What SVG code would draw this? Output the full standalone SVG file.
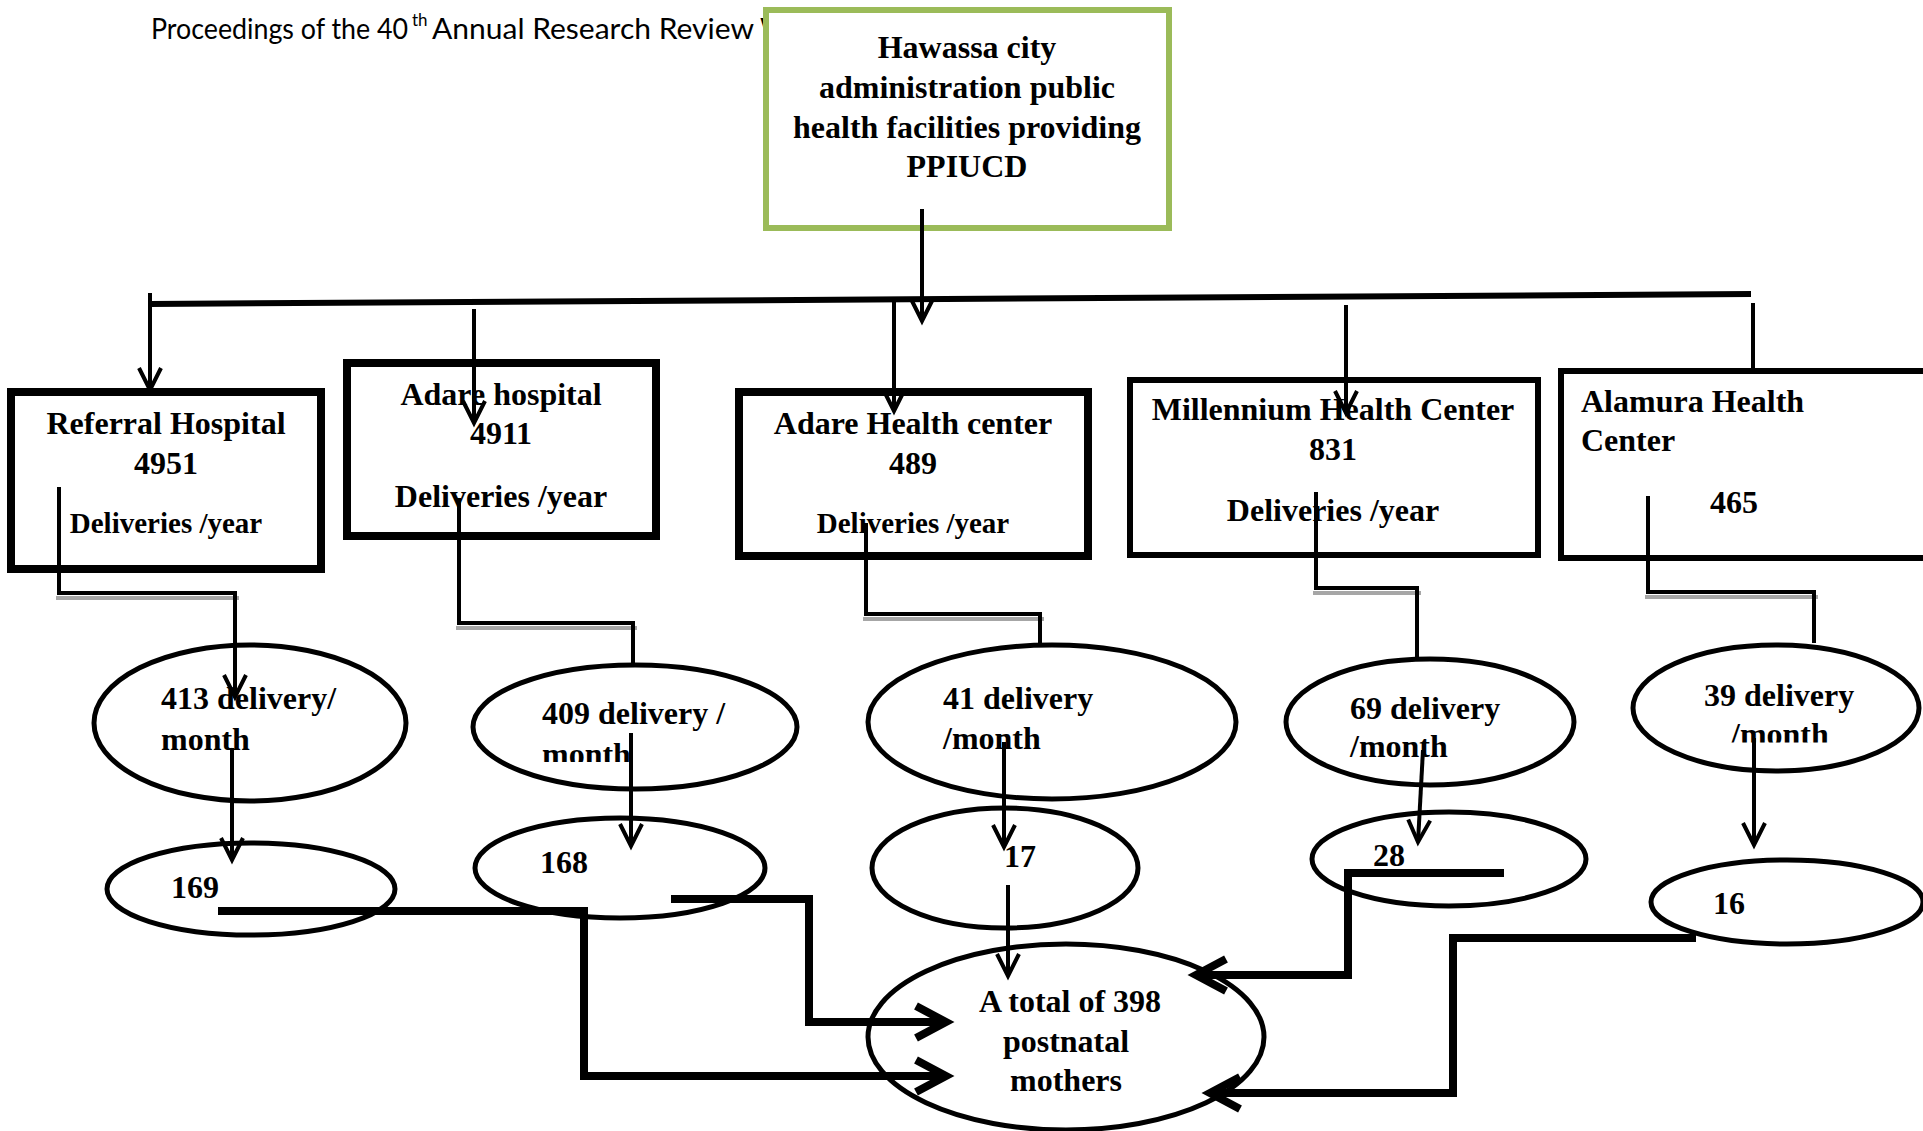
<svg xmlns="http://www.w3.org/2000/svg" width="1923" height="1131" viewBox="0 0 1923 1131">
<defs>
<style>
.t{font-family:"Liberation Serif","Times New Roman",serif;font-weight:bold;font-size:32px;fill:#000}
.s29{font-size:29px}
.c{text-anchor:middle}
.box{fill:#fff;stroke:#000}
.ell{fill:#fff;stroke:#000;stroke-width:5}
.ln{fill:none;stroke:#000;stroke-width:4}
.thick{fill:none;stroke:#000;stroke-width:8}
.sh{fill:none;stroke:#a6a6a6;stroke-width:4}
.hdr{font-family:Lato,"Open Sans",sans-serif;fill:#000}
</style>
<marker id="ar" markerUnits="userSpaceOnUse" viewBox="-30 -16 34 32" refX="0" refY="0" markerWidth="34" markerHeight="32" orient="auto" overflow="visible">
<path d="M-22,-11 L0,0 L-22,11" fill="none" stroke="#000" stroke-width="4"/>
</marker>
<marker id="art" markerUnits="userSpaceOnUse" viewBox="-40 -22 46 44" refX="0" refY="0" markerWidth="46" markerHeight="44" orient="auto" overflow="visible">
<path d="M-30,-16 L0,0 L-30,16" fill="none" stroke="#000" stroke-width="8"/>
</marker>
<clipPath id="clipE2"><rect x="400" y="600" width="450" height="162"/></clipPath>
<clipPath id="clipE5"><rect x="1600" y="600" width="330" height="142.5"/></clipPath>
</defs>
<rect x="0" y="0" width="1923" height="1131" fill="#fff"/>

<text class="hdr" x="151" y="39" font-size="29" textLength="257" lengthAdjust="spacingAndGlyphs">Proceedings of the 40</text>
<text class="hdr" x="412" y="26" font-size="17">th</text>
<text class="hdr" x="432" y="39" font-size="29" textLength="322" lengthAdjust="spacingAndGlyphs">Annual Research Review</text>
<text class="hdr" x="760" y="39" font-size="29">Wo</text>

<g id="node-root">
<rect x="766" y="10" width="403" height="218" fill="#fff" stroke="#9bbb59" stroke-width="6"/>
<text class="t c" x="967" y="58">Hawassa city</text>
<text class="t c" x="967" y="98">administration public</text>
<text class="t c" x="967" y="138">health facilities providing</text>
<text class="t c" x="967" y="177">PPIUCD</text>
</g>

<g id="node-referral">
<rect class="box" x="11" y="392" width="310" height="177" stroke-width="8"/>
<text class="t c" x="166" y="434">Referral Hospital</text>
<text class="t c" x="166" y="474">4951</text>
<text class="t c s29" x="166" y="533">Deliveries /year</text>
</g>
<g id="node-adare-hospital">
<rect class="box" x="347" y="363" width="309" height="173" stroke-width="8"/>
<text class="t c" x="501" y="405">Adare hospital</text>
<text class="t c" x="501" y="444">4911</text>
<text class="t c" x="501" y="507">Deliveries /year</text>
</g>
<g id="node-adare-hc">
<rect class="box" x="739" y="392" width="349" height="164" stroke-width="8"/>
<text class="t c" x="913" y="434">Adare Health center</text>
<text class="t c" x="913" y="474">489</text>
<text class="t c s29" x="913" y="533">Deliveries /year</text>
</g>
<g id="node-millennium">
<rect class="box" x="1130" y="380" width="408" height="175" stroke-width="6"/>
<text class="t c" x="1333" y="420">Millennium Health Center</text>
<text class="t c" x="1333" y="460">831</text>
<text class="t c" x="1333" y="521">Deliveries /year</text>
</g>
<g id="node-alamura">
<rect class="box" x="1561" y="371" width="400" height="187" stroke-width="6"/>
<text class="t" x="1581" y="412">Alamura Health</text>
<text class="t" x="1581" y="451">Center</text>
<text class="t" x="1710" y="513">465</text>
</g>

<g id="node-e1">
<ellipse class="ell" cx="250" cy="723" rx="156" ry="78"/>
<text class="t" x="161" y="709">413 delivery/</text>
<text class="t" x="161" y="750">month</text>
</g>
<g id="node-e2">
<ellipse class="ell" cx="635" cy="727" rx="162" ry="62"/>
<g clip-path="url(#clipE2)">
<text class="t" x="542" y="724">409 delivery /</text>
<text class="t" x="542" y="765">month</text>
</g>
</g>
<g id="node-e3">
<ellipse class="ell" cx="1052" cy="722" rx="184" ry="77"/>
<text class="t" x="943" y="709">41 delivery</text>
<text class="t" x="943" y="749">/month</text>
</g>
<g id="node-e4">
<ellipse class="ell" cx="1430" cy="722" rx="144" ry="63"/>
<text class="t" x="1350" y="719">69 delivery</text>
<text class="t" x="1350" y="757">/month</text>
</g>
<g id="node-e5">
<ellipse class="ell" cx="1776" cy="708" rx="143" ry="63"/>
<g clip-path="url(#clipE5)">
<text class="t" x="1704" y="706">39 delivery</text>
<text class="t" x="1731" y="745">/month</text>
</g>
</g>

<g id="node-n169">
<ellipse class="ell" cx="251" cy="889" rx="144" ry="46"/>
<text class="t" x="171" y="898">169</text>
</g>
<g id="node-n168">
<ellipse class="ell" cx="620" cy="868" rx="145" ry="50"/>
<text class="t" x="540" y="873">168</text>
</g>
<g id="node-n17">
<ellipse class="ell" cx="1005" cy="868" rx="133" ry="60"/>
<text class="t" x="1004" y="867">17</text>
</g>
<g id="node-n28">
<ellipse class="ell" cx="1449" cy="859" rx="137" ry="47"/>
<text class="t" x="1373" y="866">28</text>
</g>
<g id="node-n16">
<ellipse class="ell" cx="1787" cy="902" rx="136" ry="42"/>
<text class="t" x="1713" y="914">16</text>
</g>
<g id="node-total">
<ellipse class="ell" cx="1066" cy="1037" rx="198" ry="93"/>
<text class="t c" x="1070" y="1012">A total of 398</text>
<text class="t c" x="1066" y="1052">postnatal</text>
<text class="t c" x="1066" y="1091">mothers</text>
</g>

<g id="connectors">
<line x1="150" y1="304" x2="1751" y2="294" stroke="#000" stroke-width="6"/>
<path class="ln" d="M150,293 V390" marker-end="url(#ar)"/>
<path class="ln" d="M922,209 V321" marker-end="url(#ar)"/>
<path class="ln" d="M474,309 V423" marker-end="url(#ar)"/>
<path class="ln" d="M894,297 V411" marker-end="url(#ar)"/>
<path class="ln" d="M1346,305 V413" marker-end="url(#ar)"/>
<path class="ln" d="M1753,303 V370"/>

<path class="sh" d="M56,598 H239"/>
<path class="sh" d="M456,628 H637"/>
<path class="sh" d="M863,619 H1044"/>
<path class="sh" d="M1313,593 H1421"/>
<path class="sh" d="M1645,597 H1818"/>
<path class="ln" d="M59,487 V593 H235 V697" marker-end="url(#ar)"/>
<path class="ln" d="M459,498 V623 H633 V663"/>
<path class="ln" d="M866,523 V614 H1040 V644"/>
<path class="ln" d="M1316,492 V588 H1417 V657"/>
<path class="ln" d="M1648,496 V592 H1814 V643"/>

<path class="ln" d="M232,748 V860" marker-end="url(#ar)"/>
<path class="ln" d="M631,733 V846" marker-end="url(#ar)"/>
<path class="ln" d="M1004,742 V847" marker-end="url(#ar)"/>
<path class="ln" d="M1423,750 L1418,842" marker-end="url(#ar)"/>
<path class="ln" d="M1754,738 V845" marker-end="url(#ar)"/>
<path class="ln" d="M1008,885 V976" marker-end="url(#ar)"/>

<path class="thick" d="M218,911 H584 V1076 H946" marker-end="url(#art)"/>
<path class="thick" d="M671,899 H809 V1022 H946" marker-end="url(#art)"/>
<path class="thick" d="M1504,873 H1348 V975 H1196" marker-end="url(#art)"/>
<path class="thick" d="M1696,938 H1453 V1093 H1210" marker-end="url(#art)"/>
</g>
</svg>
